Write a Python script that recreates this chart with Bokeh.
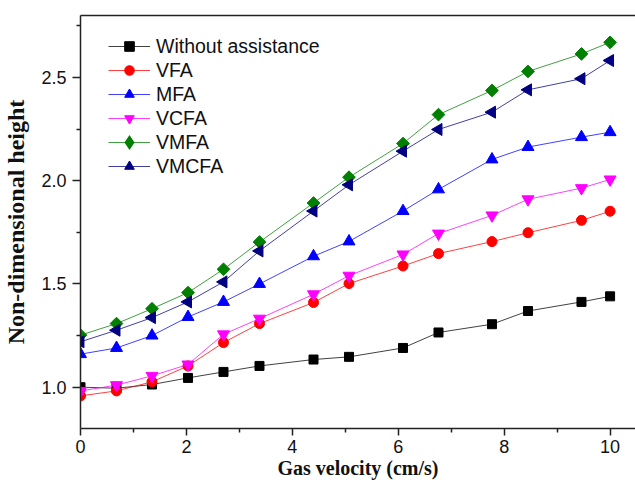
import numpy as np
from bokeh.plotting import figure
from bokeh.models import Range1d, FixedTicker, LinearAxis, Legend, LegendItem, NumeralTickFormatter
from bokeh.embed import file_html
from bokeh.resources import INLINE

# ---- data ----
gas_velocity = [0, 0.68, 1.35, 2.03, 2.7, 3.38, 4.4, 5.07, 6.09, 6.76, 7.77, 8.45, 9.46, 10.0]
without_assistance = [1.0, 0.995, 1.013, 1.045, 1.074, 1.103, 1.134, 1.147, 1.19, 1.265, 1.305, 1.369, 1.413, 1.44]
vfa = [0.958, 0.982, 1.026, 1.103, 1.216, 1.308, 1.41, 1.502, 1.587, 1.647, 1.705, 1.748, 1.808, 1.852]
mfa = [1.16, 1.19, 1.25, 1.34, 1.413, 1.50, 1.634, 1.706, 1.853, 1.958, 2.103, 2.163, 2.211, 2.235]
vcfa = [0.982, 1.01, 1.055, 1.11, 1.256, 1.332, 1.45, 1.54, 1.643, 1.744, 1.832, 1.91, 1.964, 2.006]
vmfa = [1.252, 1.308, 1.38, 1.458, 1.571, 1.703, 1.892, 2.017, 2.18, 2.32, 2.437, 2.529, 2.614, 2.67]
vmcfa = [1.22, 1.276, 1.337, 1.413, 1.51, 1.66, 1.853, 1.98, 2.143, 2.248, 2.332, 2.44, 2.494, 2.582]

series_names = ["Without assistance", "VFA", "MFA", "VCFA", "VMFA", "VMCFA"]
x_major_ticks = [0, 2, 4, 6, 8, 10]
x_minor_ticks = [1, 3, 5, 7, 9]
y_major_ticks = [1.0, 1.5, 2.0, 2.5]
y_minor_ticks = [1.25, 1.75, 2.25, 2.75]

p = figure(width=635, height=484, output_backend="svg", toolbar_location=None,
           x_range=Range1d(0, 10.48), y_range=Range1d(0.8, 2.8),
           min_border_left=79, min_border_right=0, min_border_top=15, min_border_bottom=56,
           x_axis_label="Gas velocity (cm/s)", y_axis_label="Non-dimensional height")
p.outline_line_color = None
p.grid.visible = False
p.background_fill_color = "white"

styles = [
    dict(color="#000000", marker="square", size=9, angle=0.0, legend_marker=None),
    dict(color="#FF0000", marker="circle", size=10, angle=0.0, legend_marker=None),
    dict(color="#0000FF", marker="triangle", size=12, angle=0.0, legend_marker=None),
    dict(color="#FF00FF", marker="inverted_triangle", size=12, angle=0.0, legend_marker=None),
    dict(color="#008000", marker="square", size=9, angle=np.pi / 4, legend_marker="diamond"),
    dict(color="#000080", marker="triangle", size=12, angle=np.pi / 2, legend_marker=None),
]
all_series = [without_assistance, vfa, mfa, vcfa, vmfa, vmcfa]

items = []
for name, ys, st in zip(series_names, all_series, styles):
    ln = p.line(gas_velocity, ys, line_color=st["color"], line_width=1, line_alpha=0.75)
    sc = p.scatter(gas_velocity, ys, marker=st["marker"], size=st["size"], angle=st["angle"],
                   fill_color=st["color"], line_color=st["color"])
    if st["legend_marker"]:
        # legend-only proxy (one NaN point, nothing drawn in the plot)
        proxy = p.scatter([np.nan], [np.nan], marker=st["legend_marker"], size=20, line_width=3,
                          line_join="miter", fill_color=st["color"], line_color=st["color"])
        items.append(LegendItem(label=name, renderers=[ln, proxy]))
    else:
        items.append(LegendItem(label=name, renderers=[ln, sc]))

legend = Legend(items=items, location=(28, 250), padding=5, margin=0, spacing=0,
                glyph_width=42, glyph_height=24, label_height=24, label_standoff=6,
                label_text_font="Liberation Sans", label_text_font_size="19.5px",
                label_text_color="#111111",
                background_fill_alpha=0, border_line_color=None)
p.add_layout(legend, "center")

for ax in (p.xaxis[0], p.yaxis[0]):
    ax.axis_line_width = 1.5
    ax.axis_line_color = "#222222"
    ax.major_tick_line_width = 1.5
    ax.major_tick_line_color = "#222222"
    ax.minor_tick_line_width = 1.5
    ax.minor_tick_line_color = "#222222"
    ax.major_tick_in = 0
    ax.minor_tick_in = 0
    ax.major_label_text_font = "Liberation Sans"
    ax.major_label_text_font_size = "18px"
    ax.major_label_text_color = "#111111"
    ax.axis_label_text_font = "Liberation Serif"
    ax.axis_label_text_font_style = "bold"
    ax.axis_label_text_color = "#111111"

xa = p.xaxis[0]
xa.ticker = FixedTicker(ticks=x_major_ticks, minor_ticks=x_minor_ticks)
xa.major_tick_out = 7
xa.minor_tick_out = 4
xa.major_label_standoff = 4
xa.axis_label_standoff = 1
xa.axis_label_text_font_size = "20px"

ya = p.yaxis[0]
ya.ticker = FixedTicker(ticks=y_major_ticks, minor_ticks=y_minor_ticks)
ya.formatter = NumeralTickFormatter(format="0.0")
ya.major_tick_out = 8
ya.minor_tick_out = 4
ya.major_label_standoff = 6
ya.axis_label_standoff = 9
ya.axis_label_text_font_size = "24px"

top = LinearAxis(ticker=FixedTicker(ticks=[]), axis_line_width=1.5, axis_line_color="#222222",
                 major_tick_out=0, major_tick_in=0, minor_tick_out=0, minor_tick_in=0)
p.add_layout(top, "above")

open("out.html", "w").write(file_html(p, INLINE))
